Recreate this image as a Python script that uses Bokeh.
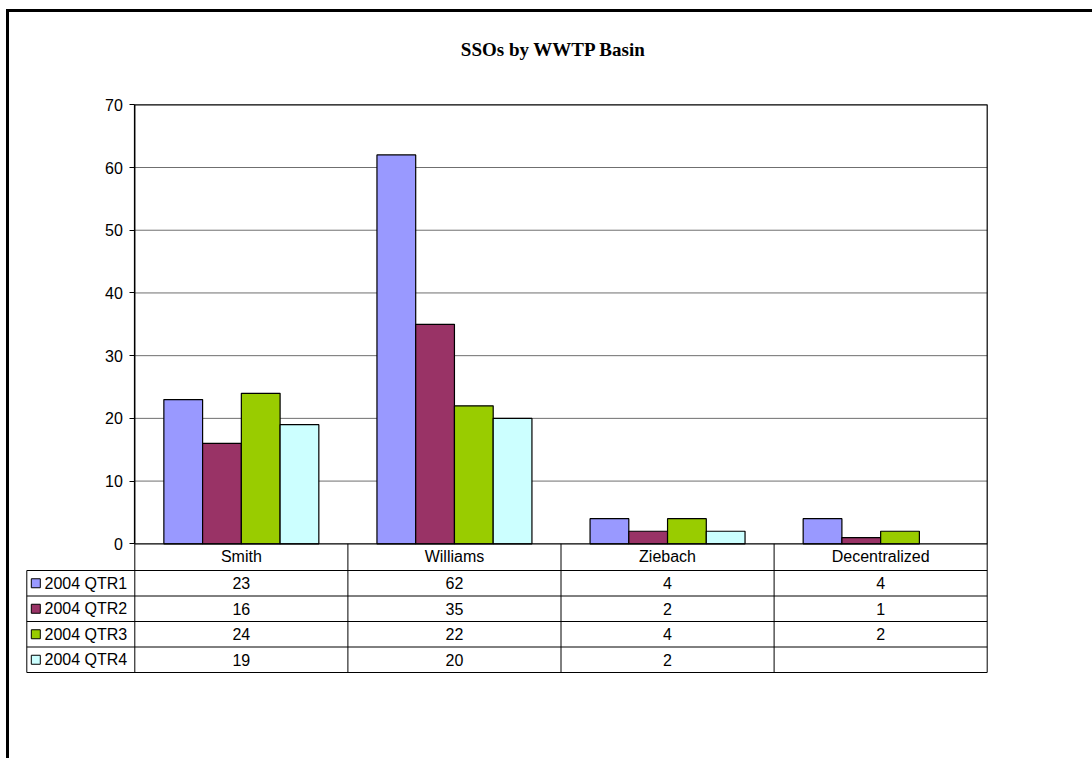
import numpy as np
from bokeh.plotting import figure
from bokeh.models import LinearAxis, FixedTicker, Range1d
from bokeh.core.properties import value
from bokeh.embed import file_html
from bokeh.resources import INLINE

# ---------------- data ----------------
title_text = "SSOs by WWTP Basin"
categories = ["Smith", "Williams", "Ziebach", "Decentralized"]
series_names = ["2004 QTR1", "2004 QTR2", "2004 QTR3", "2004 QTR4"]
qtr1 = [23, 62, 4, 4]
qtr2 = [16, 35, 2, 1]
qtr3 = [24, 22, 4, 2]
qtr4 = [19, 20, 2, None]
y_ticks = [0, 10, 20, 30, 40, 50, 60, 70]
colors = ["#9999FF", "#993366", "#99CC00", "#CCFFFF"]
series = [qtr1, qtr2, qtr3, qtr4]

# ---------------- layout (screen pixels) ----------------
W, H = 1092, 758
ORIG = 0
PLOT_L, PLOT_R = 134.3, 986.7
ZERO_Y, TOP_Y = 543.3, 104.3
YMAX = 70
HEAD_B = 570.0
ROW_H = 25.5
LEG_L = 26.3
FONT = "Liberation Sans"
FS = "16px"

ncat = len(categories)
cat_px = (PLOT_R - PLOT_L) / ncat
val_px = (ZERO_Y - TOP_Y) / YMAX


def X(px):
    return (px - PLOT_L) / cat_px


def Y(py):
    return (ZERO_Y - py) / val_px


p = figure(width=W, height=H, output_backend="svg", toolbar_location=None,
           x_range=Range1d(X(ORIG), X(ORIG + W)),
           y_range=Range1d(Y(ORIG + H), Y(ORIG)),
           x_axis_location=None, y_axis_location=None,
           min_border=0, outline_line_color=None,
           background_fill_color="white", border_fill_color="white")
p.title.visible = False
for g in p.grid:
    g.visible = False

# outer chart frame (left and top edges visible)
p.segment(x0=[X(7), X(5.5)], y0=[Y(10), Y(10)],
          x1=[X(7), X(ORIG + W)], y1=[Y(ORIG + H), Y(10)],
          line_color="black", line_width=3)

# title
p.text(x=[X(553)], y=[Y(48.5)], text=[title_text],
       text_font=value("Liberation Serif"), text_font_style="bold",
       text_font_size="19px", text_align="center", text_baseline="middle",
       text_color="black")

# gridlines
grid_vals = y_ticks[1:-1]
p.segment(x0=[0] * len(grid_vals), x1=[ncat] * len(grid_vals),
          y0=grid_vals, y1=grid_vals, line_color="#6f6f6f", line_width=1)

# bars
bw = 1 / 5.5
for j, (vals, col) in enumerate(zip(series, colors)):
    xs = [i + (1.25 + j) / 5.5 for i in range(ncat)]
    tops = np.array([np.nan if v is None else v for v in vals], dtype=float)
    p.vbar(x=xs, top=tops, bottom=0, width=bw, fill_color=col,
           line_color="black", line_width=1.2)

# plot area border
p.quad(left=[0], right=[ncat], bottom=[0], top=[YMAX], fill_color=None,
       line_color="black", line_width=1.2)

# y axis
yaxis = LinearAxis(fixed_location=0, ticker=FixedTicker(ticks=y_ticks),
                   bounds=(0, YMAX), axis_line_color="black", axis_line_width=1.2,
                   major_tick_out=5, major_tick_in=0, major_tick_line_color="black",
                   minor_tick_line_color=None, major_label_standoff=7,
                   major_label_text_font=FONT, major_label_text_font_size=FS,
                   major_label_text_color="black")
p.add_layout(yaxis, "left")

# x axis (category header row)
xaxis = LinearAxis(fixed_location=0,
                   ticker=FixedTicker(ticks=[i + 0.5 for i in range(ncat)]),
                   bounds=(0, ncat), axis_line_color=None,
                   major_tick_out=0, major_tick_in=0, minor_tick_line_color=None,
                   major_label_overrides={i + 0.5: c for i, c in enumerate(categories)},
                   major_label_standoff=4, major_label_text_font=FONT,
                   major_label_text_font_size=FS, major_label_text_color="black")
p.add_layout(xaxis, "below")

# data table lines
nrows = len(series)
row_lines = [HEAD_B + ROW_H * k for k in range(nrows + 1)]
p.segment(x0=[X(LEG_L)] * len(row_lines), x1=[ncat] * len(row_lines),
          y0=[Y(r) for r in row_lines], y1=[Y(r) for r in row_lines],
          line_color="black", line_width=1)
vx = list(range(ncat + 1)) + [X(LEG_L)]
vy0 = [0] * (ncat + 1) + [Y(HEAD_B)]
p.segment(x0=vx, x1=vx, y0=vy0, y1=[Y(row_lines[-1])] * len(vx),
          line_color="black", line_width=1)

# table values
tx, ty, tt = [], [], []
for j, vals in enumerate(series):
    yc = Y(HEAD_B + ROW_H * (j + 0.5))
    for i, v in enumerate(vals):
        tx.append(i + 0.5)
        ty.append(yc)
        tt.append("" if v is None else str(v))
p.text(x=tx, y=ty, text=tt, text_font=value(FONT), text_font_size=FS,
       text_align="center", text_baseline="middle", text_color="black")

# legend keys in table
row_c = [Y(HEAD_B + ROW_H * (j + 0.5)) for j in range(nrows)]
p.scatter(x=[X(35.3)] * nrows, y=row_c, marker="square", size=9,
          fill_color=colors, line_color="black", line_width=1)
p.text(x=[X(44)] * nrows, y=row_c, text=series_names, text_font=value(FONT),
       text_font_size=FS, text_align="left", text_baseline="middle",
       text_color="black")

open("out.html", "w").write(file_html(p, INLINE))
